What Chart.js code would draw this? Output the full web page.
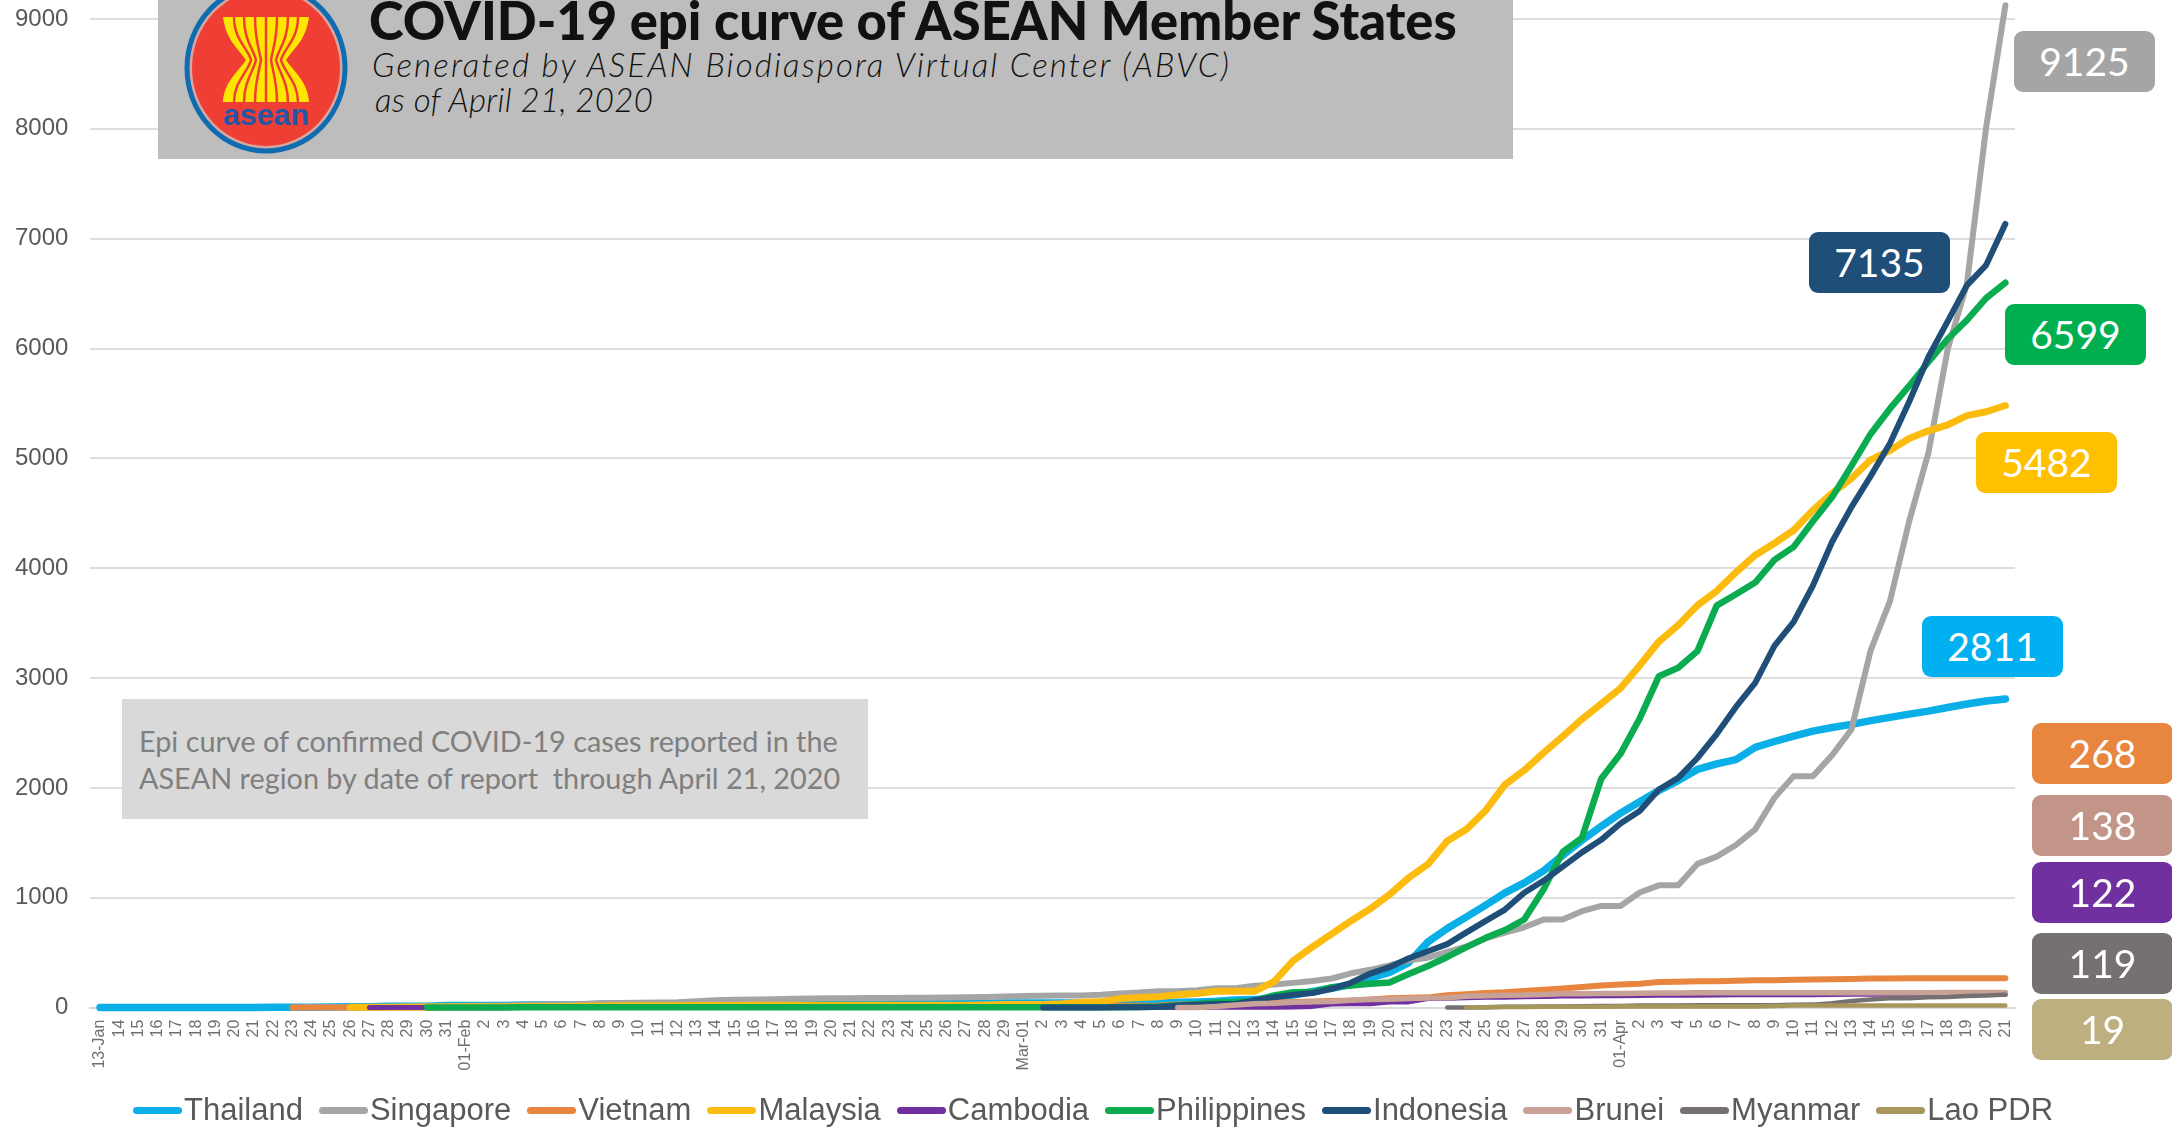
<!DOCTYPE html>
<html>
<head>
<meta charset="utf-8">
<title>COVID-19 epi curve of ASEAN Member States</title>
<script src="https://cdn.jsdelivr.net/npm/chart.js@4"></script>
<style>
    html, body { margin: 0; padding: 0; background: #fff; overflow: hidden; }
    #page { position: relative; width: 2172px; height: 1129px; overflow: hidden; }
    #chart { position: absolute; left: 0; top: 0; }

    #banner { position: absolute; left: 158px; top: 0; width: 1355px; height: 159px; background: #bdbdbd; }
    #banner svg { position: absolute; left: 24px; top: 0; }
    #banner div { position: absolute; white-space: nowrap; color: #111; font-family: Lato, sans-serif; }
    #title { left: 211px; top: -13px; font-size: 52.5px; line-height: 66px; font-weight: 900; color: #000; }
    #sub1 { left: 214px; top: 44px; font-size: 33px; line-height: 40px; font-style: italic; font-weight: 300; letter-spacing: 2.15px; }
    #sub2 { left: 217px; top: 79px; font-size: 33px; line-height: 40px; font-style: italic; font-weight: 300; letter-spacing: 0.3px; }

    #note { position: absolute; left: 122px; top: 699px; width: 746px; height: 120px; background: #d9d9d9;
        color: #7f7f7f; font-family: Lato, sans-serif; font-size: 28.8px; line-height: 37px; white-space: pre; }
    #note span { position: absolute; left: 17px; top: 24px; }

    .tag { position: absolute; width: 141px; height: 61px; border-radius: 9px; color: #fff; text-align: center;
        font-family: Lato, sans-serif; font-size: 39px; line-height: 61px; }

    #legend { position: absolute; left: 133px; top: 1092px; display: flex; gap: 16px; color: #595959;
        font-family: "Liberation Sans", Arial, sans-serif; font-size: 31px; line-height: 36px; white-space: nowrap; }
    #legend .item { display: flex; align-items: center; }
    #legend .swatch { width: 49px; height: 7px; border-radius: 4px; margin-right: 2px; }
</style>
</head>
<body>
<div id="page">
    <canvas id="chart" width="2172" height="1129"></canvas>

    <div id="banner">
        <svg width="170" height="159" viewBox="0 0 170 159">
            <ellipse cx="84" cy="68" rx="79" ry="83" fill="#d8a6a0" stroke="#0f6cb0" stroke-width="5"/>
            <ellipse cx="84" cy="68" rx="74" ry="78" fill="#ef3e33"/>
            <path d="M41 17 H127 C124 40 112 48 104 60 C112 72 126 82 127 102 H41 C42 82 56 72 64 60 C56 48 44 40 41 17 Z" fill="#ffe600"/>
            <g stroke="#ef3e33" stroke-width="2.5" fill="none">
                <path d="M52 17 C52 40 66 48 69 60 C66 72 52 82 52 102"/>
                <path d="M62 17 C62 40 71 48 74 60 C71 72 62 82 62 102"/>
                <path d="M73 17 C73 40 77 48 79 60 C77 72 73 82 73 102"/>
                <path d="M84 17 V102"/>
                <path d="M95 17 C95 40 91 48 89 60 C91 72 95 82 95 102"/>
                <path d="M106 17 C106 40 97 48 94 60 C97 72 106 82 106 102"/>
                <path d="M116 17 C116 40 102 48 99 60 C102 72 116 82 116 102"/>
            </g>
            <text x="84" y="125" text-anchor="middle" font-family="Liberation Sans" font-weight="700" font-size="30" textLength="86" lengthAdjust="spacingAndGlyphs" fill="#2456a8">asean</text>
        </svg>
        <div id="title">COVID-19 epi curve of ASEAN Member States</div>
        <div id="sub1">Generated by ASEAN Biodiaspora Virtual Center (ABVC)</div>
        <div id="sub2">as of April 21, 2020</div>
    </div>

    <div id="note"><span>Epi curve of confirmed COVID-19 cases reported in the
ASEAN region by date of report  through April 21, 2020</span></div>

    <div class="tag" style="left:2014px;top:31px;background:#a5a5a5">9125</div>
    <div class="tag" style="left:1809px;top:232px;background:#1f4e79">7135</div>
    <div class="tag" style="left:2005px;top:304px;background:#00b050">6599</div>
    <div class="tag" style="left:1976px;top:432px;background:#ffc000">5482</div>
    <div class="tag" style="left:1922px;top:616px;background:#00b0f0">2811</div>
    <div class="tag" style="left:2032px;top:723px;background:#e8853f">268</div>
    <div class="tag" style="left:2032px;top:795px;background:#c39588">138</div>
    <div class="tag" style="left:2032px;top:862px;background:#7030a0">122</div>
    <div class="tag" style="left:2032px;top:933px;background:#767171">119</div>
    <div class="tag" style="left:2032px;top:999px;background:#bdaf7f">19</div>

    <div id="legend"></div>
</div>

<script>
// Days reported, 13 Jan to 21 Apr 2020
const days = [
    '13-Jan','14','15','16','17','18','19','20','21','22','23','24','25','26','27','28','29','30','31',
    '01-Feb','2','3','4','5','6','7','8','9','10','11','12','13','14','15','16','17','18','19','20','21','22','23','24','25','26','27','28','29',
    'Mar-01','2','3','4','5','6','7','8','9','10','11','12','13','14','15','16','17','18','19','20','21','22','23','24','25','26','27','28','29','30','31',
    '01-Apr','2','3','4','5','6','7','8','9','10','11','12','13','14','15','16','17','18','19','20','21'
];

const yTicks = [0, 1000, 2000, 3000, 4000, 5000, 6000, 7000, 8000, 9000];
const yTop = 9173;

// Cumulative cases, one row per month
const thailand = [
    1,1,1,1,2,2,2,2,2,4,4,5,7,8,8,14,14,14,19,
    19,19,19,25,25,25,25,32,32,32,33,33,33,34,34,34,35,35,35,35,35,35,35,37,37,40,40,41,42,
    42,43,43,43,47,48,50,50,50,53,59,70,75,82,114,147,177,212,272,322,411,599,721,827,934,1045,1136,1245,1388,1524,1651,
    1771,1875,1978,2067,2169,2220,2258,2369,2423,2473,2518,2551,2579,2613,2643,2672,2700,2733,2765,2792,2811
];
const singapore = [
    null,null,null,null,null,null,null,null,null,null,1,3,3,4,5,7,7,10,13,
    16,18,18,24,28,30,33,40,43,45,47,50,58,67,72,75,77,81,84,85,86,89,89,90,91,93,96,98,102,
    106,108,110,110,117,130,138,150,150,160,178,178,200,212,226,243,266,313,345,385,432,455,509,558,631,683,732,802,802,879,926,
    926,1049,1114,1114,1309,1375,1481,1623,1910,2108,2108,2299,2532,3252,3699,4427,5050,5992,6588,8014,9125
];
const vietnam = [
    null,null,null,null,null,null,null,null,null,null,2,2,2,2,2,2,2,2,5,
    6,6,8,8,8,10,10,12,13,14,15,16,16,16,16,16,16,16,16,16,16,16,16,16,16,16,16,16,16,
    16,16,16,16,16,17,18,21,30,31,35,38,39,47,53,57,61,66,75,85,91,94,113,123,134,141,153,163,174,188,203,
    212,218,233,237,240,241,245,249,251,255,257,258,262,265,266,268,268,268,268,268,268
];
const malaysia = [
    null,null,null,null,null,null,null,null,null,null,null,null,null,4,4,4,7,7,8,
    8,8,8,10,12,12,14,16,18,18,18,18,19,19,21,22,22,22,22,22,22,22,22,22,22,22,23,25,29,
    29,29,36,50,55,83,93,99,117,129,149,150,150,238,428,553,673,790,900,1030,1183,1306,1518,1624,1796,2031,2161,2320,2470,2626,2766,
    2908,3116,3333,3483,3662,3793,3963,4119,4228,4346,4530,4683,4817,4987,5072,5182,5251,5305,5389,5425,5482
];
const cambodia = [
    null,null,null,null,null,null,null,null,null,null,null,null,null,null,1,1,1,1,1,
    1,1,1,1,1,1,1,1,1,1,1,1,1,1,1,1,1,1,1,1,1,1,1,1,1,1,1,1,1,
    1,1,1,1,1,1,2,2,2,2,3,3,3,5,7,12,33,35,37,51,53,84,87,91,96,96,99,103,107,107,109,
    109,110,114,114,114,115,117,117,119,119,119,120,122,122,122,122,122,122,122,122,122
];
const philippines = [
    null,null,null,null,null,null,null,null,null,null,null,null,null,null,null,null,null,1,1,
    1,2,2,3,3,3,3,3,3,3,3,3,3,3,3,3,3,3,3,3,3,3,3,3,3,3,3,3,3,
    3,3,3,3,3,5,6,10,20,33,49,52,64,111,140,142,187,202,217,230,307,380,462,552,636,707,803,1075,1418,1546,2084,
    2311,2633,3018,3094,3246,3660,3764,3870,4076,4195,4428,4648,4932,5223,5453,5660,5878,6087,6259,6459,6599
];
const indonesia = [
    null,null,null,null,null,null,null,null,null,null,null,null,null,null,null,null,null,null,null,
    null,null,null,null,null,null,null,null,null,null,null,null,null,null,null,null,null,null,null,null,null,null,null,null,null,null,null,null,null,
    null,2,2,2,2,4,4,6,19,27,34,34,69,96,117,134,172,227,311,369,450,514,579,686,790,893,1046,1155,1285,1414,1528,
    1677,1790,1986,2092,2273,2491,2738,2956,3293,3512,3842,4241,4557,4839,5136,5516,5923,6248,6575,6760,7135
];
const brunei = [
    null,null,null,null,null,null,null,null,null,null,null,null,null,null,null,null,null,null,null,
    null,null,null,null,null,null,null,null,null,null,null,null,null,null,null,null,null,null,null,null,null,null,null,null,null,null,null,null,null,
    null,null,null,null,null,null,null,null,1,1,11,25,37,40,50,54,56,68,75,78,83,88,91,104,109,114,115,120,126,127,129,
    129,131,133,134,135,135,135,135,135,135,136,136,136,136,136,137,137,138,138,138,138
];
const myanmar = [
    null,null,null,null,null,null,null,null,null,null,null,null,null,null,null,null,null,null,null,
    null,null,null,null,null,null,null,null,null,null,null,null,null,null,null,null,null,null,null,null,null,null,null,null,null,null,null,null,null,
    null,null,null,null,null,null,null,null,null,null,null,null,null,null,null,null,null,null,null,null,null,null,2,2,5,8,8,10,10,14,15,
    15,20,21,21,22,22,22,22,22,27,28,41,62,74,85,85,94,98,107,111,119
];
const laoPdr = [
    null,null,null,null,null,null,null,null,null,null,null,null,null,null,null,null,null,null,null,
    null,null,null,null,null,null,null,null,null,null,null,null,null,null,null,null,null,null,null,null,null,null,null,null,null,null,null,null,null,
    null,null,null,null,null,null,null,null,null,null,null,null,null,null,null,null,null,null,null,null,null,null,null,2,3,6,6,8,8,8,9,
    10,10,10,10,10,11,12,12,16,19,19,19,19,19,19,19,19,19,19,19,19
];

const countries = ['Thailand', 'Singapore', 'Vietnam', 'Malaysia', 'Cambodia', 'Philippines', 'Indonesia', 'Brunei', 'Myanmar', 'Lao PDR'];
const series = [thailand, singapore, vietnam, malaysia, cambodia, philippines, indonesia, brunei, myanmar, laoPdr];
const colors = ['#0bafe8', '#a5a5a5', '#e8853f', '#fcbc0f', '#7030a0', '#0bab50', '#1f4e79', '#c9a297', '#767171', '#a8975c'];
const widths = [7.5, 6, 6, 7, 5, 6.5, 6, 5.5, 4.5, 4.5];

new Chart(document.getElementById('chart').getContext('2d'), {
    type: 'line',
    data: {
        labels: days,
        datasets: countries.map((name, i) => ({
            label: name,
            data: series[i],
            borderColor: colors[i],
            backgroundColor: colors[i],
            borderWidth: widths[i],
            borderCapStyle: 'round',
            borderJoinStyle: 'round',
            pointRadius: 0,
            tension: 0,
            clip: false,
            // Chart.js paints the lowest order last, later countries go on top
            order: countries.length - i
        }))
    },
    options: {
        responsive: false,
        animation: false,
        devicePixelRatio: 1,
        layout: { autoPadding: false, padding: { right: 157 } },
        plugins: {
            legend: { display: false },
            tooltip: { enabled: false }
        },
        scales: {
            x: {
                offset: true,
                afterFit: scale => { scale.height = 121.3; },
                grid: { display: false },
                border: { color: '#d9d9d9', width: 2 },
                ticks: {
                    autoSkip: false,
                    minRotation: 90,
                    maxRotation: 90,
                    padding: 4,
                    color: '#6f6f6f',
                    font: { family: '"Liberation Sans"', size: 16 }
                }
            },
            y: {
                min: 0,
                max: yTop,
                bounds: 'data',
                afterFit: scale => {
                    scale.width = 90.4;
                    // no room for the top label, the plot runs to the page edge
                    scale.paddingTop = 0;
                    scale.paddingBottom = 0;
                },
                afterBuildTicks: scale => {
                    scale.ticks = yTicks.map(value => ({ value }));
                    scale.max = yTop;
                },
                grid: { color: '#dedede', lineWidth: 2, drawTicks: false },
                border: { display: false },
                ticks: {
                    padding: 22,
                    color: '#595959',
                    font: { family: '"Liberation Sans"', size: 24 },
                    callback: value => String(value)
                }
            }
        }
    }
});

// Legend as html so the line sample can sit right against its label
const legend = document.getElementById('legend');
countries.forEach((name, i) => {
    const item = document.createElement('div');
    item.className = 'item';
    const swatch = document.createElement('span');
    swatch.className = 'swatch';
    swatch.style.background = colors[i];
    item.appendChild(swatch);
    item.appendChild(document.createTextNode(name));
    legend.appendChild(item);
});
</script>
</body>
</html>
